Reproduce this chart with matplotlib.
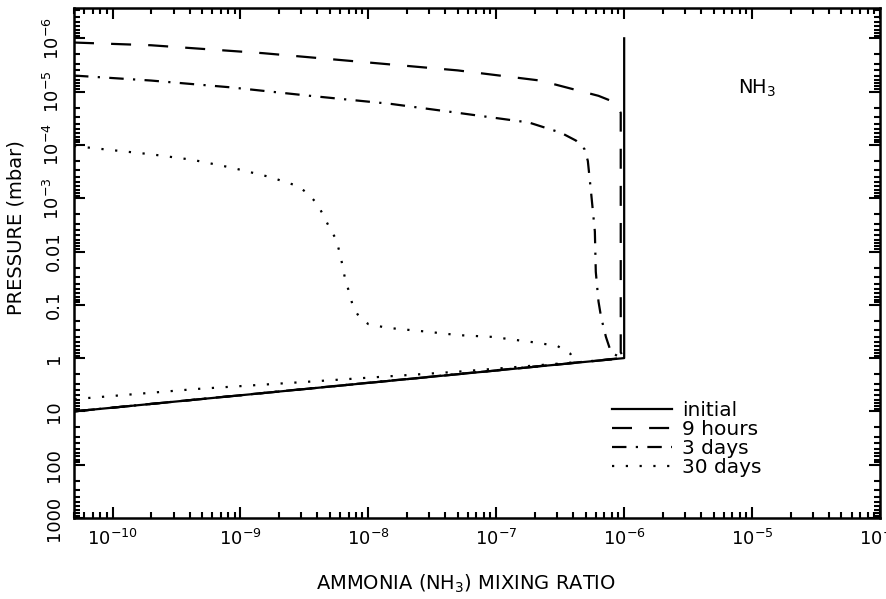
import matplotlib
matplotlib.use("Agg")
import matplotlib.pyplot as plt
from matplotlib.ticker import FixedLocator, FixedFormatter, LogLocator, NullFormatter

# profiles: NH3 mixing ratio vs pressure (mbar)
init_x = [5.0e-11, 1.0e-6, 1.0e-6]
init_p = [10, 1.0, 1.0e-6]

h9_x = [5.0e-11, 2.0e-10, 1.5e-9, 5.0e-8, 2.2e-7, 6.3e-7, 8.5e-7, 9.4e-7, 9.4e-7, 1.0e-6, 5.0e-11]
h9_p = [1.2e-6, 1.35e-6, 1.9e-6, 4.0e-6, 6.2e-6, 1.2e-5, 1.6e-5, 2.5e-5, 0.78, 1.0, 10]

d3_x = [5.0e-11, 2.0e-10, 8.3e-10, 3.5e-9, 1.5e-8, 5.0e-8, 1.8e-7, 3.2e-7, 4.2e-7, 4.9e-7,
        5.2e-7, 5.5e-7, 5.9e-7, 6.0e-7, 6.3e-7, 6.6e-7, 7.2e-7, 7.9e-7, 9.5e-7, 5.0e-11]
d3_p = [5.0e-6, 6.2e-6, 8.3e-6, 1.2e-5, 1.7e-5, 2.5e-5, 3.8e-5, 5.9e-5, 8.3e-5, 1.2e-4,
        2.0e-4, 7.4e-4, 4.2e-3, 0.024, 0.087, 0.17, 0.40, 0.78, 1.0, 10]

d30_x = [5.0e-11, 2.0e-10, 4.2e-10, 8.7e-10, 1.7e-9, 2.8e-9, 3.4e-9, 4.0e-9, 4.5e-9, 5.0e-9,
         5.6e-9, 6.0e-9, 6.3e-9, 6.6e-9, 7.1e-9, 7.6e-9, 8.5e-9, 1.0e-8, 1.4e-8, 2.9e-8,
         5.0e-8, 9.3e-8, 1.9e-7, 3.0e-7, 3.8e-7, 4.1e-7, 5.0e-8, 3.2e-9, 4.5e-10, 5.0e-11]
d30_p = [1.05e-4, 1.5e-4, 1.9e-4, 2.7e-4, 4.0e-4, 5.9e-4, 8.3e-4, 1.3e-3, 2.2e-3, 3.7e-3,
         5.9e-3, 0.011, 0.019, 0.034, 0.059, 0.11, 0.17, 0.23, 0.27, 0.32,
         0.37, 0.40, 0.50, 0.59, 0.83, 1.2, 1.8, 2.8, 3.8, 5.9]

labels = ["initial", "9 hours", "3 days", "30 days"]
xticks = [1e-10, 1e-9, 1e-8, 1e-7, 1e-6, 1e-5, 1e-4]
xticklabels = ["$10^{-10}$", "$10^{-9}$", "$10^{-8}$", "$10^{-7}$", "$10^{-6}$", "$10^{-5}$", "$10^{-4}$"]
yticks = [1000, 100, 10, 1, 0.1, 0.01, 1e-3, 1e-4, 1e-5, 1e-6]
yticklabels = ["1000", "100", "10", "1", "0.1", "0.01", "$10^{-3}$", "$10^{-4}$", "$10^{-5}$", "$10^{-6}$"]

plt.rcParams['font.family'] = ['DejaVu Sans']
plt.rcParams['mathtext.fontset'] = 'dejavusans'

fig = plt.figure(figsize=(8.86, 5.99), dpi=100)
ax = fig.add_axes([74/886, 81/599, 806/886, 510/599])

lw = 1.6
ax.plot(init_x, init_p, color='black', lw=lw, label=labels[0])
ax.plot(h9_x, h9_p, color='black', lw=lw, dashes=(9.0, 7.7), label=labels[1])
ax.plot(d3_x, d3_p, color='black', lw=lw, dashes=(6.5, 4.2, 1, 4.2), label=labels[2])
ax.plot(d30_x, d30_p, color='black', lw=lw, dashes=(1, 5.2), label=labels[3])

ax.set_xscale('log')
ax.set_yscale('log')
ax.set_xlim(5e-11, 1e-4)
ax.set_ylim(1000, 2.7e-7)

ax.xaxis.set_major_locator(FixedLocator(xticks))
ax.xaxis.set_major_formatter(FixedFormatter(xticklabels))
ax.xaxis.set_minor_locator(LogLocator(base=10, subs=range(2, 10), numticks=20))
ax.xaxis.set_minor_formatter(NullFormatter())
ax.yaxis.set_major_locator(FixedLocator(yticks))
ax.yaxis.set_major_formatter(FixedFormatter(yticklabels))
ax.yaxis.set_minor_locator(LogLocator(base=10, subs=range(2, 10), numticks=20))
ax.yaxis.set_minor_formatter(NullFormatter())

ax.tick_params(which='both', direction='in', top=True, right=True, width=1.5)
ax.tick_params(which='major', length=8, labelsize=13, pad=8)
ax.tick_params(which='minor', length=4)
for lab in ax.get_yticklabels():
    lab.set_rotation(90)
    lab.set_va('center')
for s in ax.spines.values():
    s.set_linewidth(1.8)

ax.set_xlabel("AMMONIA (NH$_3$) MIXING RATIO", fontsize=14)
ax.xaxis.set_label_coords(0.486, -0.108)
ax.set_ylabel("PRESSURE (mbar)", fontsize=14)
ax.yaxis.set_label_coords(-0.06, 0.57)

ax.text(0.847, 0.843, "NH$_3$", transform=ax.transAxes, fontsize=14, ha='center', va='center')

ax.legend(loc='upper left', bbox_to_anchor=(0.655, 0.25), frameon=False, fontsize=14.5,
          handlelength=3.0, handletextpad=0.5, labelspacing=0.0, borderpad=0)

plt.savefig("out.png", dpi=100)
